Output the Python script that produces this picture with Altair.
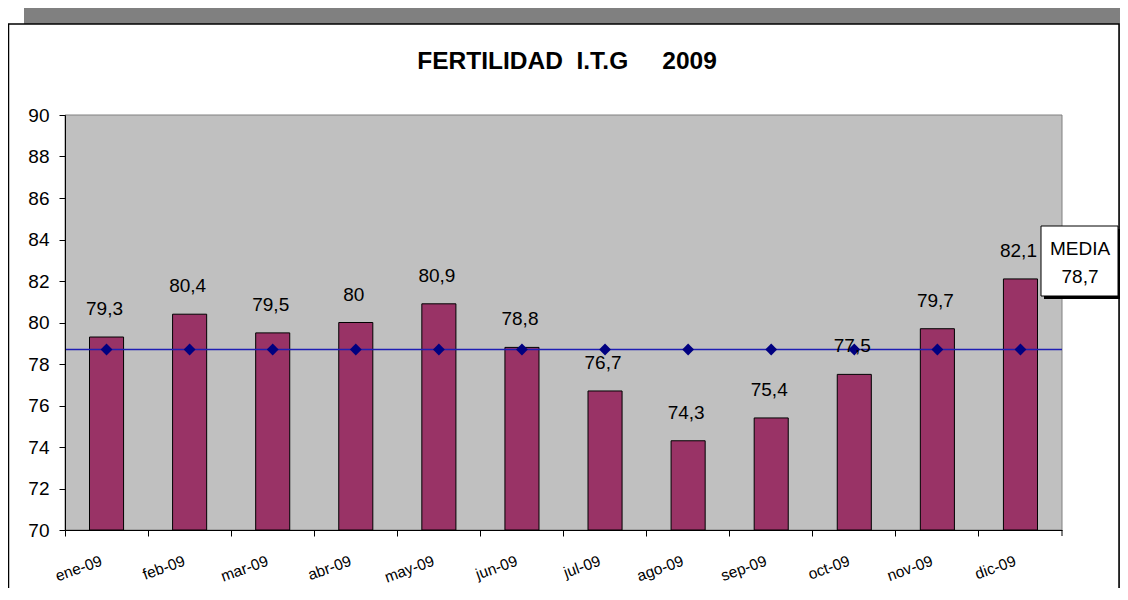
import altair as alt
import pandas as pd

meses = ["ene-09", "feb-09", "mar-09", "abr-09", "may-09", "jun-09",
         "jul-09", "ago-09", "sep-09", "oct-09", "nov-09", "dic-09"]
valores = [79.3, 80.4, 79.5, 80.0, 80.9, 78.8, 76.7, 74.3, 75.4, 77.5, 79.7, 82.1]
media = 78.7
y_ticks = [70, 72, 74, 76, 78, 80, 82, 84, 86, 88, 90]
titulo = "FERTILIDAD\u00a0 I.T.G\u00a0\u00a0\u00a0\u00a0 2009"


def fmt(v):
    return f"{v:g}".replace(".", ",")


df = pd.DataFrame({
    "mes": meses,
    "valor": valores,
    "etiqueta": [fmt(v) for v in valores],
    "media": [media] * len(meses),
})
one = pd.DataFrame({"k": [0]})

W, H = 997, 415
FONT = "Liberation Sans"
BAR = "#993366"
NAVY = "#000080"
LINE = "#1E1EB4"

xenc = alt.X("mes:N", sort=meses,
             scale=alt.Scale(paddingInner=0, paddingOuter=0),
             axis=alt.Axis(bandPosition=0, labels=False, title=None, ticks=True,
                           tickSize=6, tickColor="black", domainColor="black",
                           grid=False, zindex=1))
yscale = alt.Scale(domain=[70, 90], zero=False, nice=False)
yenc = alt.Y("valor:Q", scale=yscale,
             axis=alt.Axis(values=y_ticks, title=None, grid=False, tickSize=6,
                           tickColor="black", domainColor="black",
                           labelFont=FONT, labelFontSize=19, labelColor="black",
                           labelPadding=10, zindex=1))

# frame / background
shadow = alt.Chart(one).mark_rect(fill="#808080").encode(
    x=alt.value(-41), x2=alt.value(1060), y=alt.value(-107), y2=alt.value(480))
frame = alt.Chart(one).mark_rect(fill="white", stroke="black", strokeWidth=1.5).encode(
    x=alt.value(-56.5), x2=alt.value(1054), y=alt.value(-91), y2=alt.value(480))
plotbg = alt.Chart(one).mark_rect(fill="#C0C0C0", stroke="#808080", strokeWidth=1).encode(
    x=alt.value(0), x2=alt.value(W), y=alt.value(0), y2=alt.value(H))

title = alt.Chart(one).mark_text(font=FONT, fontSize=24.5, fontWeight="bold",
                                 color="black", align="center", baseline="alphabetic").encode(
    x=alt.value(502), y=alt.value(-46), text=alt.value(titulo))

bars = alt.Chart(df).mark_bar(color=BAR, stroke="black", strokeWidth=1,
                              width=alt.RelativeBandSize(0.41)).encode(
    x=xenc, y=yenc, y2=alt.datum(70))

line = alt.Chart(one).mark_rule(strokeWidth=1.4).encode(
    x=alt.value(0), x2=alt.value(W), y=alt.datum(media, scale=yscale),
    color=alt.value(LINE))

diamonds = alt.Chart(df).mark_point(shape="diamond", filled=True, size=140,
                                    color=NAVY, opacity=1).encode(
    x=alt.X("mes:N", sort=meses), y=alt.Y("media:Q"))

labels = alt.Chart(df).mark_text(font=FONT, fontSize=19, color="black",
                                 baseline="alphabetic", dy=-22, dx=-2).encode(
    x=alt.X("mes:N", sort=meses), y=alt.Y("valor:Q"), text="etiqueta:N")

xlabels = alt.Chart(df).mark_text(font=FONT, fontSize=15.5, color="black",
                                  angle=340, align="right", baseline="top", dx=-8).encode(
    x=alt.X("mes:N", sort=meses), y=alt.value(436), text="mes:N")

last_tick = alt.Chart(one).mark_rule(color="black", strokeWidth=1).encode(
    x=alt.value(W), y=alt.value(H), y2=alt.value(H + 6))

box_shadow = alt.Chart(one).mark_rect(fill="black").encode(
    x=alt.value(979), x2=alt.value(1057), y=alt.value(114), y2=alt.value(184))
box = alt.Chart(one).mark_rect(fill="white", stroke="black", strokeWidth=1).encode(
    x=alt.value(976), x2=alt.value(1053), y=alt.value(111), y2=alt.value(181))
box_t1 = alt.Chart(one).mark_text(font=FONT, fontSize=19, color="black",
                                  align="center", baseline="alphabetic").encode(
    x=alt.value(1015), y=alt.value(140), text=alt.value("MEDIA"))
box_t2 = alt.Chart(one).mark_text(font=FONT, fontSize=19, color="black",
                                  align="center", baseline="alphabetic").encode(
    x=alt.value(1015), y=alt.value(168), text=alt.value(fmt(media)))

chart = alt.layer(
    shadow, frame, plotbg, title, bars, line, diamonds, labels, xlabels,
    last_tick, box_shadow, box, box_t1, box_t2
).properties(
    width=W, height=H,
    autosize=alt.AutoSizeParams(type="none"),
    padding={"left": 57, "top": 107, "right": 58, "bottom": 58},
).configure_view(stroke="transparent")

chart.save("out.html", embed_options={"renderer": "svg", "actions": False})
